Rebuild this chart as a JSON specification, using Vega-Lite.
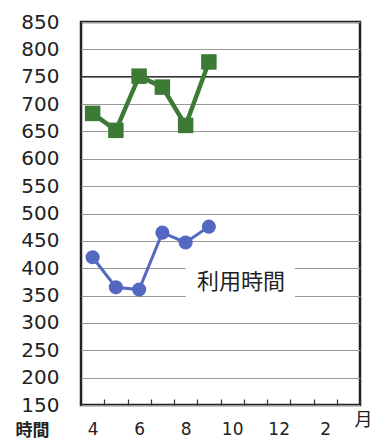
{
  "$schema": "https://vega.github.io/schema/vega-lite/v6.json",
  "width": 279,
  "height": 383,
  "autosize": "none",
  "padding": {"left": 81, "top": 22, "right": 18, "bottom": 35},
  "config": {
    "view": {"stroke": "#222", "strokeWidth": 2.5},
    "font": "DejaVu Sans"
  },
  "datasets": {
    "series": [
      {"month": 4, "value": 683, "series": "A"},
      {"month": 5, "value": 652, "series": "A"},
      {"month": 6, "value": 751, "series": "A"},
      {"month": 7, "value": 731, "series": "A"},
      {"month": 8, "value": 661, "series": "A"},
      {"month": 9, "value": 777, "series": "A"},
      {"month": 4, "value": 420, "series": "利用時間"},
      {"month": 5, "value": 365, "series": "利用時間"},
      {"month": 6, "value": 361, "series": "利用時間"},
      {"month": 7, "value": 465, "series": "利用時間"},
      {"month": 8, "value": 447, "series": "利用時間"},
      {"month": 9, "value": 476, "series": "利用時間"}
    ],
    "box": [{"month": 8.0, "month2": 12.7, "value": 330, "value2": 425}],
    "label": [{"month": 10.38, "value": 375, "text": "利用時間"}],
    "dark": [{"value": 750}]
  },
  "encoding": {
    "x": {
      "field": "month", "type": "quantitative",
      "scale": {"domain": [3.5, 15.5], "nice": false, "zero": false},
      "axis": {
        "values": [4, 5, 6, 7, 8, 9, 10, 11, 12, 13, 14, 15],
        "labelExpr": "indexof([4,6,8,10,12,14], datum.value) >= 0 ? (datum.value > 12 ? datum.value - 12 : datum.value) : ''",
        "grid": false,
        "domain": false,
        "ticks": true,
        "offset": -6,
        "tickSize": 6,
        "tickOffset": 11.625,
        "labelOffset": -11.625,
        "tickColor": "#333",
        "tickWidth": 1.2,
        "labelFontSize": 17,
        "labelColor": "#222",
        "labelPadding": 16,
        "labelFlush": false,
        "labelOverlap": false,
        "title": "月",
        "titleFont": "Noto Sans CJK JP",
        "titleFontSize": 18,
        "titleFontWeight": "normal",
        "titleColor": "#222",
        "titleX": 282,
        "titleY": 12,
        "titleAlign": "center",
        "titleBaseline": "top"
      }
    },
    "y": {
      "field": "value", "type": "quantitative",
      "scale": {"domain": [150, 850], "nice": false, "zero": false},
      "axis": {
        "values": [150, 200, 250, 300, 350, 400, 450, 500, 550, 600, 650, 700, 750, 800, 850],
        "grid": true,
        "gridColor": "#999",
        "gridWidth": 1,
        "ticks": false,
        "domain": false,
        "labelFontSize": 20,
        "labelColor": "#222",
        "labelPadding": 22,
        "labelFlush": false,
        "labelOverlap": false,
        "title": "時間",
        "titleFont": "Noto Sans CJK JP",
        "titleFontSize": 17,
        "titleFontWeight": "bold",
        "titleColor": "#222",
        "titleAngle": 0,
        "titleX": -49,
        "titleY": 400,
        "titleAlign": "center",
        "titleBaseline": "top"
      }
    }
  },
  "layer": [
    {
      "data": {"name": "box"},
      "mark": {"type": "rect", "fill": "white", "stroke": null},
      "encoding": {
        "x2": {"field": "month2"},
        "y2": {"field": "value2"}
      }
    },
    {
      "data": {"name": "dark"},
      "mark": {"type": "rule", "color": "#333", "strokeWidth": 1.3},
      "encoding": {"x": {"value": 0}, "x2": {"value": 279}}
    },
    {
      "data": {"name": "series"},
      "mark": {"type": "line"},
      "encoding": {
        "color": {"field": "series", "type": "nominal", "scale": {"domain": ["A", "利用時間"], "range": ["#3d7a36", "#5468c2"]}, "legend": null},
        "strokeWidth": {"field": "series", "type": "nominal", "scale": {"domain": ["A", "利用時間"], "range": [4.5, 3]}, "legend": null}
      }
    },
    {
      "data": {"name": "series"},
      "mark": {"type": "point", "filled": true, "opacity": 1},
      "encoding": {
        "color": {"field": "series", "type": "nominal", "scale": {"domain": ["A", "利用時間"], "range": ["#3d7a36", "#4a62be"]}, "legend": null},
        "shape": {"field": "series", "type": "nominal", "scale": {"domain": ["A", "利用時間"], "range": ["square", "circle"]}, "legend": null},
        "size": {"field": "series", "type": "nominal", "scale": {"domain": ["A", "利用時間"], "range": [240, 200]}, "legend": null}
      }
    },
    {
      "data": {"name": "label"},
      "mark": {"type": "text", "font": "Noto Sans CJK JP", "fontSize": 22, "color": "#222", "align": "center", "baseline": "middle"},
      "encoding": {
        "text": {"field": "text"}
      }
    }
  ]
}
